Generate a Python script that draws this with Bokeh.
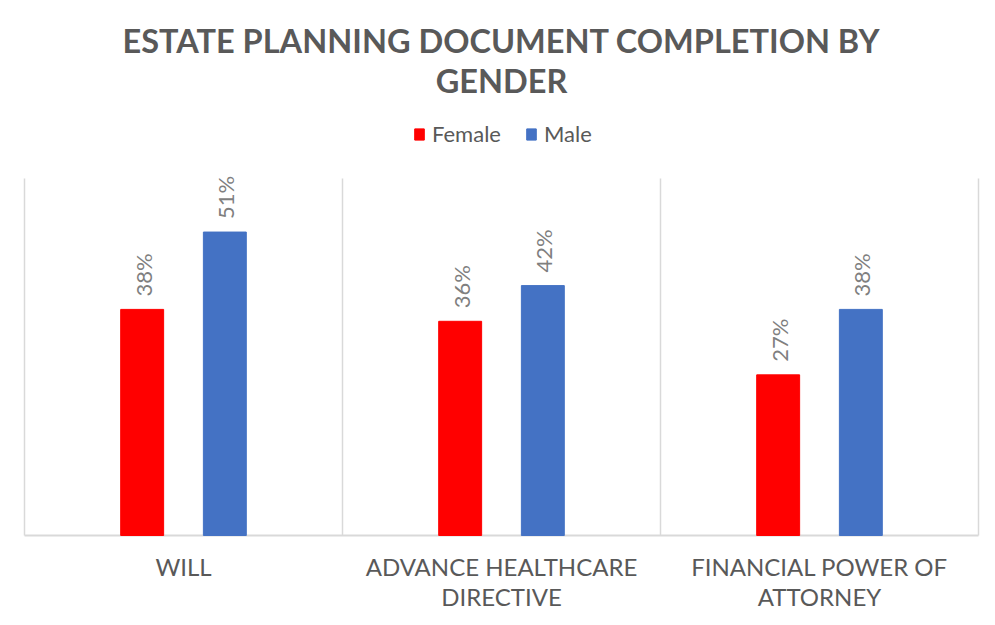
from math import pi

from bokeh.core.properties import value
from bokeh.embed import file_html
from bokeh.models import ColumnDataSource, Legend, LegendItem, Range1d
from bokeh.plotting import figure
from bokeh.resources import INLINE
from bokeh.transform import dodge

categories = ["WILL", "ADVANCE HEALTHCARE\nDIRECTIVE", "FINANCIAL POWER OF\nATTORNEY"]
female = [0.38, 0.36, 0.27]
male = [0.51, 0.42, 0.38]
title_lines = ["ESTATE PLANNING DOCUMENT COMPLETION BY", "GENDER"]
y_max = 0.6

FONT = "Lato"
RED = "#ff0000"
BLUE = "#4472c4"
GRID = "#d9d9d9"
DARK = "#595959"

n = len(categories)
centers = [i + 0.5 for i in range(n)]
src = ColumnDataSource(dict(
    x=centers,
    female=female,
    male=male,
    female_txt=[f"{v:.0%}" for v in female],
    male_txt=[f"{v:.0%}" for v in male],
))

# frame fills the canvas; ranges padded so the bar area sits where the original has it
W, H = 987, 617
left, right, top, bottom = 24, 9, 178, 82
xs = (W - left - right) / n
ys = (H - top - bottom) / y_max
p = figure(
    width=W,
    height=H,
    x_range=Range1d(-left / xs, n + right / xs),
    y_range=Range1d(-bottom / ys, y_max + top / ys),
    output_backend="svg",
    toolbar_location=None,
    tools="",
    min_border=0,
)
p.axis.visible = False
p.grid.visible = False
p.outline_line_color = None

# category separators and baseline
p.segment(x0=list(range(n + 1)), y0=0, x1=list(range(n + 1)), y1=y_max,
          line_color=GRID, line_width=1.5)
p.segment(x0=0, y0=0, x1=n, y1=0, line_color=GRID, line_width=2)

w = 0.135
rf = p.vbar(x=dodge("x", -0.13), top="female", width=w, source=src, color=RED)
rm = p.vbar(x=dodge("x", 0.13), top="male", width=w, source=src, color=BLUE)

for col, off in (("female", -0.13), ("male", 0.13)):
    p.text(
        x=dodge("x", off), y=col, text=f"{col}_txt", source=src,
        angle=pi / 2, text_align="left", text_baseline="middle",
        x_offset=1, y_offset=-13,
        text_font=value(FONT), text_font_size="22px", text_color="#7f7f7f",
    )

# category labels (two lines where needed)
first = [c.split("\n")[0] for c in categories]
second = [c.split("\n")[1] if "\n" in c else "" for c in categories]
for lines, dy in ((first, 31), (second, 61)):
    p.text(x=centers, y=[0] * n, text=lines, y_offset=dy,
           text_align="center", text_baseline="middle",
           text_font=value(FONT), text_font_size="24px", text_color=DARK)

# title
for line, dy in zip(title_lines, (-138, -98)):
    p.text(x=[n / 2], y=[y_max], text=[line], y_offset=dy,
           text_align="center", text_baseline="middle",
           text_font=value(FONT), text_font_size="32.5px",
           text_font_style="bold", text_color=DARK)

legend = Legend(
    items=[LegendItem(label="Female", renderers=[rf]), LegendItem(label="Male", renderers=[rm])],
    orientation="horizontal",
    location=(413, 470),
    border_line_color=None,
    background_fill_alpha=0,
    label_text_font=FONT,
    label_text_font_size="22px",
    label_text_color=DARK,
    glyph_width=12,
    glyph_height=14,
    label_standoff=7,
    spacing=24,
    padding=0,
    margin=0,
)
p.add_layout(legend)

open("out.html", "w").write(file_html(p, INLINE))
